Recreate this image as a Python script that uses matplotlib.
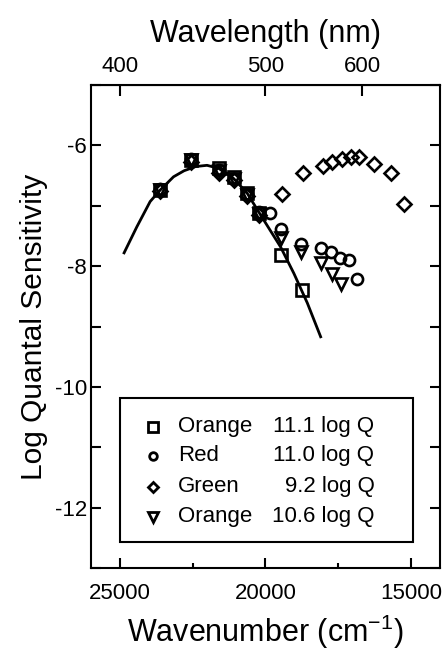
import matplotlib
matplotlib.use("Agg")
import matplotlib.pyplot as plt
from matplotlib.ticker import MultipleLocator, FixedLocator
from matplotlib.patches import Rectangle

plt.rcParams['font.family'] = ['Liberation Sans', 'DejaVu Sans']
plt.rcParams['axes.unicode_minus'] = False

# template curve (wavenumber, log sensitivity)
curve_wn = [24862, 24425, 23966, 23621, 23162, 22800, 22400, 22011, 21609, 21092,
            20632, 20172, 19483, 19024, 18562, 18103]
curve_y = [-7.78, -7.35, -6.93, -6.74, -6.52, -6.42, -6.35, -6.33, -6.38, -6.55,
           -6.79, -7.15, -7.68, -8.12, -8.61, -9.17]

# Orange 11.1 log Q (squares)
sq_wn = [23621, 22552, 21609, 21092, 20632, 20230, 19483, 18736]
sq_y = [-6.74, -6.25, -6.38, -6.52, -6.79, -7.12, -7.81, -8.39]

# Red 11.0 log Q (circles)
ci_wn = [23621, 22552, 21609, 21092, 20632, 20230, 19828, 19483, 18769,
         18103, 17759, 17438, 17128, 16838]
ci_y = [-6.72, -6.22, -6.40, -6.55, -6.80, -7.10, -7.12, -7.39, -7.63,
        -7.70, -7.76, -7.87, -7.90, -8.22]

# Green 9.2 log Q (diamonds)
di_wn = [23621, 22552, 21609, 21092, 20632, 20230, 19425, 18703, 18024,
         17700, 17380, 17069, 16783, 16266, 15690, 15231]
di_y = [-6.76, -6.27, -6.45, -6.58, -6.84, -7.15, -6.80, -6.45, -6.34,
        -6.27, -6.22, -6.19, -6.19, -6.31, -6.46, -6.97]

# Orange 10.6 log Q (triangles)
tr_wn = [23621, 22552, 21609, 21092, 20632, 20230, 19483, 18769, 18103,
         17700, 17414]
tr_y = [-6.74, -6.24, -6.42, -6.55, -6.82, -7.14, -7.54, -7.76, -7.95,
        -8.13, -8.29]

names = ['Orange', 'Red', 'Green', 'Orange']
values = ['11.1 log Q', '11.0 log Q', '9.2 log Q', '10.6 log Q']
markers = ['s', 'o', 'D', 'v']
sizes = [8.5, 8, 7.5, 9]
legend_sizes = [6.5, 5.5, 5.5, 7]

fig = plt.figure(figsize=(4.43, 6.56), dpi=100)
ax = fig.add_axes([0.2054, 0.1341, 0.7878, 0.7363])

ax.plot(curve_wn, curve_y, color='black', lw=2.0, zorder=2)

series = [(sq_wn, sq_y), (ci_wn, ci_y), (di_wn, di_y), (tr_wn, tr_y)]
for (wn, y), m, s in zip(series, markers, sizes):
    ax.plot(wn, y, linestyle='none', marker=m, markersize=s,
            markerfacecolor='none', markeredgecolor='black',
            markeredgewidth=1.9, zorder=3)

ax.set_xlim(26000, 14000)
ax.set_ylim(-13, -5)

ax.xaxis.set_major_locator(FixedLocator([25000, 20000, 15000]))
ax.xaxis.set_minor_locator(FixedLocator([22500, 17500]))
ax.yaxis.set_major_locator(MultipleLocator(2))
ax.yaxis.set_minor_locator(MultipleLocator(1))

ax.tick_params(axis='both', which='both', direction='in', width=1.5,
               labelsize=16)
ax.tick_params(axis='x', which='major', length=7, pad=11, top=False)
ax.tick_params(axis='x', which='minor', length=3.5, top=False)
ax.tick_params(axis='y', which='both', length=7, pad=3, right=True)
for sp in ax.spines.values():
    sp.set_linewidth(1.5)

ax.set_xlabel('Wavenumber (cm$^{\\mathregular{-1}}$)', fontsize=22, labelpad=6)
ax.set_ylabel('Log Quantal Sensitivity', fontsize=21.5, labelpad=5)

top = ax.secondary_xaxis('top', functions=(lambda x: 1e7 / x, lambda x: 1e7 / x))
top.set_xticks([400, 500, 600])
top.tick_params(direction='in', length=8, width=1.5, labelsize=16, pad=6)
top.set_xlabel('Wavelength (nm)', fontsize=22, labelpad=10)

# legend box drawn by hand to keep the two text columns
ax.add_patch(Rectangle((0.083, 0.054), 0.84, 0.298, transform=ax.transAxes,
                       facecolor='white', edgecolor='black', lw=1.5, zorder=4))
rows = [0.292, 0.232, 0.168, 0.106]
for r, name, val, m, s in zip(rows, names, values, markers, legend_sizes):
    ax.plot([0.178], [r], transform=ax.transAxes, marker=m, markersize=s,
            markerfacecolor='none', markeredgecolor='black',
            markeredgewidth=2, zorder=5, clip_on=False)
    ax.text(0.249, r, name, transform=ax.transAxes, fontsize=16,
            va='center', ha='left', zorder=5)
    ax.text(0.812, r, val, transform=ax.transAxes, fontsize=16,
            va='center', ha='right', zorder=5)

fig.savefig('out.png', dpi=100)
